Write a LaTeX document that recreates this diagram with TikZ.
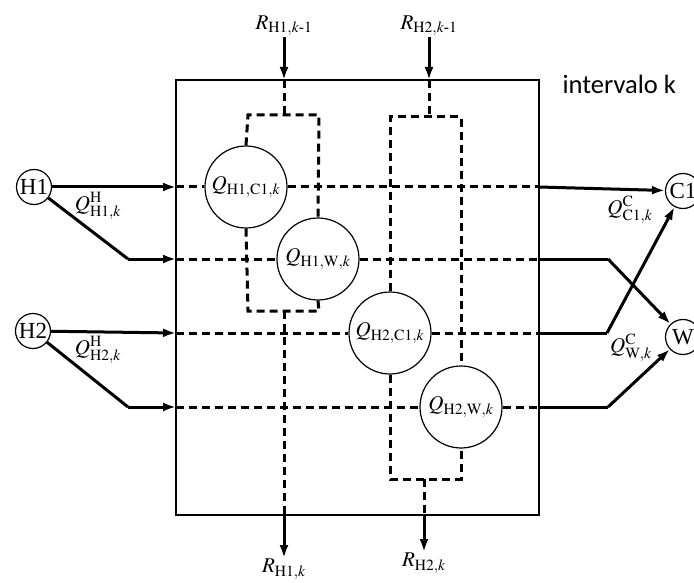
\documentclass[tikz,border=0pt]{standalone}
\usepackage{amsmath}
\usepackage{mathptmx}
\usepackage{fontspec}
\setmainfont{Liberation Serif}
\newfontfamily\labelfont{Carlito}
\usetikzlibrary{arrows.meta}
\begin{document}
\begin{tikzpicture}[x=1pt,y=-1pt,
  stream/.style={circle,draw,line width=1.2pt,inner sep=0pt,minimum size=35pt,font=\fontsize{23}{23}\selectfont},
  match/.style={circle,draw,line width=1.2pt,inner sep=0pt,minimum size=82pt,font=\fontsize{21}{21}\selectfont},
  flow/.style={line width=3pt},
  flowarrow/.style={line width=3pt,-{Latex[length=13pt,width=9pt]}},
  part/.style={line width=3pt,dash pattern=on 8pt off 5pt},
  frame/.style={line width=1.4pt},
  lbl/.style={font=\fontsize{21}{21}\selectfont,inner sep=1pt}]
\useasboundingbox (0,0) rectangle (694,583);

% interval box
\draw[frame] (176,80) rectangle (539,515);
\node[font=\labelfont\fontsize{26.5}{26.5}\selectfont,anchor=west] (int) at (559,84) {intervalo k};

% hot and cold streams
\node[stream] (H1) at (34,187) {H1};
\node[stream] (H2) at (33,331) {H2};
\node[stream] (C1) at (683,191) {C1};
\node[stream] (W)  at (683,337) {W};

% heat matches
\node[match] (q11) at (246,187) {$Q_{\mathrm{H1,C1},k}$};
\node[match] (q1w) at (318,259) {$Q_{\mathrm{H1,W},k}$};
\node[match] (q21) at (390,333) {$Q_{\mathrm{H2,C1},k}$};
\node[match] (q2w) at (461,407) {$Q_{\mathrm{H2,W},k}$};

% box entry and exit points
\coordinate (l1) at (176,187); \coordinate (l2) at (176,259);
\coordinate (l3) at (176,333); \coordinate (l4) at (176,407);
\coordinate (r1) at (539,187); \coordinate (r2) at (539,259);
\coordinate (r3) at (539,333); \coordinate (r4) at (539,407);
\coordinate (k2) at (128,259); \coordinate (k4) at (128,407);
\coordinate (m2) at (608,259); \coordinate (m3) at (607,333);
\coordinate (m4) at (608,407);

% hot stream supplies
\draw[flowarrow] (H1) -- (l1);
\draw[flow] (H1) -- (k2);
\draw[flowarrow] (k2) -- (l2);
\draw[flowarrow] (H2) -- (l3);
\draw[flow] (H2) -- (k4);
\draw[flowarrow] (k4) -- (l4);

% heat flows inside the interval
\draw[part] (l1) -- (q11);
\draw[part] (l2) -- (q1w);
\draw[part] (l3) -- (q21);
\draw[part] (l4) -- (q2w);
\draw[part] (q11) -- (r1);
\draw[part] (q1w) -- (r2);
\draw[part] (q21) -- (r3);
\draw[part] (q2w) -- (r4);

% cold stream demands
\draw[flowarrow] (r1) -- (C1);
\draw[flow] (r2) -- (m2);
\draw[flowarrow] (m2) -- (W);
\draw[flow] (r3) -- (m3);
\draw[flowarrow] (m3) -- (C1);
\draw[flow] (r4) -- (m4);
\draw[flowarrow] (m4) -- (W);

% residual heat of H1
\coordinate (a1in) at (284,37);  \coordinate (a1top) at (284,80);
\coordinate (a1t) at (284,115);  \coordinate (a1tl) at (248,115);
\coordinate (a1tr) at (319,115); \coordinate (a1bl) at (248,311);
\coordinate (a1br) at (319,311); \coordinate (a1b) at (284,311);
\coordinate (a1bot) at (284,514); \coordinate (a1out) at (284,558);
\draw[flowarrow] (a1in) -- (a1top);
\draw[part] (a1top) -- (a1t);
\draw[part] (q11.north) -- (a1tl) -- (a1tr) -- (q1w.north);
\draw[part] (q11.south) -- (a1bl) -- (a1br) -- (q1w.south);
\draw[part] (a1b) -- (a1bot);
\draw[flowarrow] (a1bot) -- (a1out);

% residual heat of H2
\coordinate (a2in) at (429,37);  \coordinate (a2top) at (429,80);
\coordinate (a2t) at (429,117);  \coordinate (a2tl) at (390,117);
\coordinate (a2tr) at (461,117); \coordinate (a2bl) at (390,479);
\coordinate (a2br) at (461,479); \coordinate (a2b) at (424,479);
\coordinate (a2bot) at (424,515); \coordinate (a2out) at (424,552);
\draw[flowarrow] (a2in) -- (a2top);
\draw[part] (a2top) -- (a2t);
\draw[part] (q21.north) -- (a2tl) -- (a2tr) -- (q2w.north);
\draw[part] (q21.south) -- (a2bl) -- (a2br) -- (q2w.south);
\draw[part] (a2b) -- (a2bot);
\draw[flowarrow] (a2bot) -- (a2out);

% labels
\node[lbl,anchor=south] (t1) at (a1in) {$R_{\mathrm{H1},k\text{-}1}$};
\node[lbl,anchor=south] (t2) at (a2in) {$R_{\mathrm{H2},k\text{-}1}$};
\node[lbl,anchor=north] (b1) at (a1out) {$R_{\mathrm{H1},k}$};
\node[lbl,anchor=north] (b2) at (a2out) {$R_{\mathrm{H2},k}$};
\node[lbl] (qh1) at (98,206) {$Q^{\mathrm{H}}_{\mathrm{H1},k}$};
\node[lbl] (qh2) at (98,350) {$Q^{\mathrm{H}}_{\mathrm{H2},k}$};
\node[lbl] (qc1) at (630,210) {$Q^{\mathrm{C}}_{\mathrm{C1},k}$};
\node[lbl] (qcw) at (631,348) {$Q^{\mathrm{C}}_{\mathrm{W},k}$};
\end{tikzpicture}
\end{document}
